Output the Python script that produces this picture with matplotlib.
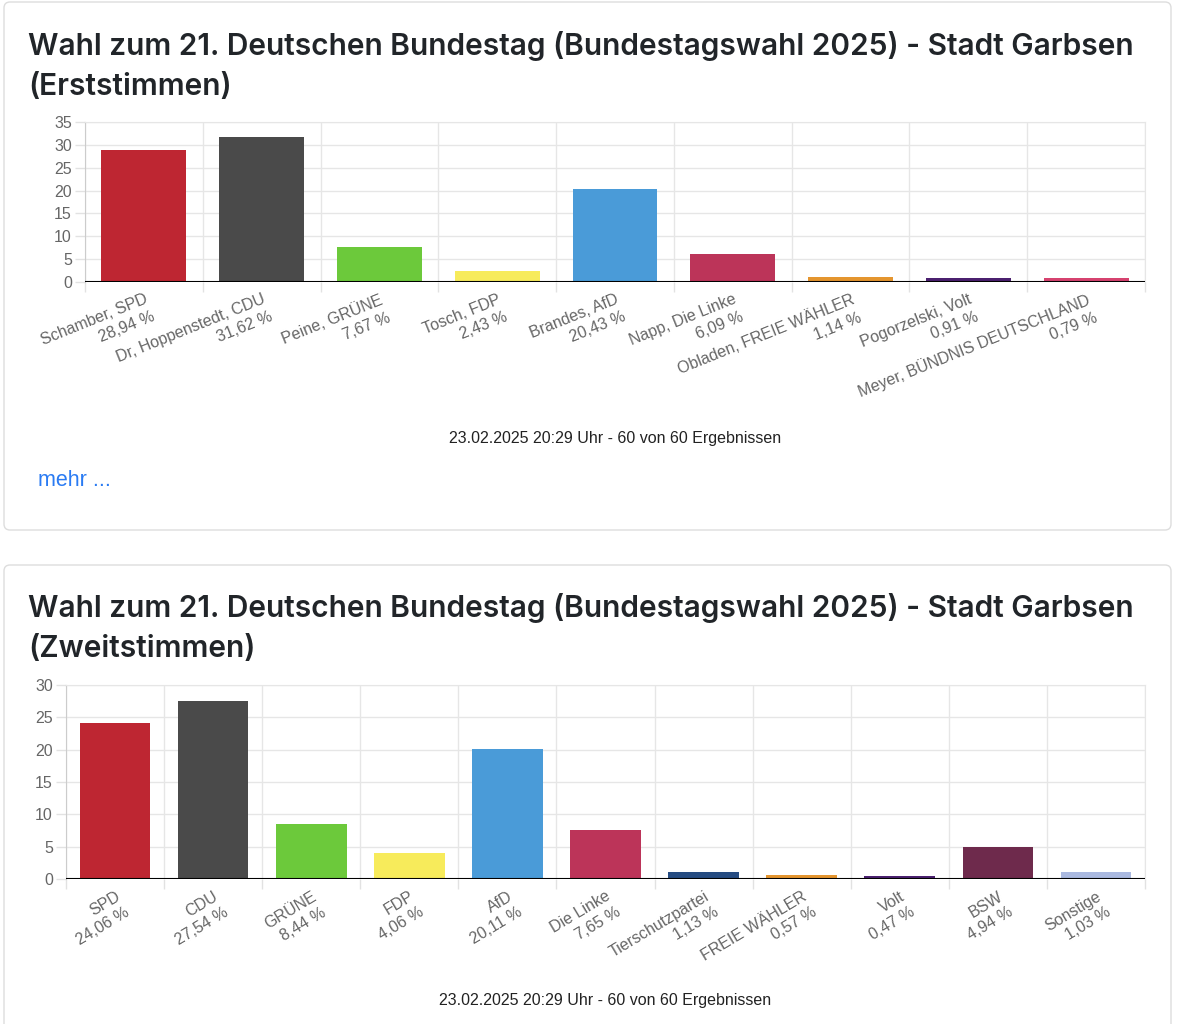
import matplotlib
matplotlib.use("Agg")
import matplotlib.pyplot as plt
from matplotlib.patches import FancyBboxPatch
from matplotlib.ticker import FixedLocator

plt.rcParams['font.family'] = ['Liberation Sans', 'DejaVu Sans']

W, H = 1188, 1024

# --- data ---
title = "Wahl zum 21. Deutschen Bundestag (Bundestagswahl 2025) - Stadt Garbsen"
footer = "23.02.2025 20:29 Uhr - 60 von 60 Ergebnissen"

erst_names = ["Schamber, SPD", "Dr. Hoppenstedt, CDU", "Peine, GRÜNE", "Tosch, FDP",
              "Brandes, AfD", "Napp, Die Linke", "Obladen, FREIE WÄHLER",
              "Pogorzelski, Volt", "Meyer, BÜNDNIS DEUTSCHLAND"]
erst_values = [28.94, 31.62, 7.67, 2.43, 20.43, 6.09, 1.14, 0.91, 0.79]
erst_colors = ["#be2632", "#4a4a4a", "#6cc93b", "#f7eb5b", "#4a9bd8",
               "#bc3459", "#e4952f", "#4b206f", "#d6426f"]
erst_yticks = [0, 5, 10, 15, 20, 25, 30, 35]

zweit_names = ["SPD", "CDU", "GRÜNE", "FDP", "AfD", "Die Linke", "Tierschutzpartei",
               "FREIE WÄHLER", "Volt", "BSW", "Sonstige"]
zweit_values = [24.06, 27.54, 8.44, 4.06, 20.11, 7.65, 1.13, 0.57, 0.47, 4.94, 1.03]
zweit_colors = ["#be2632", "#4a4a4a", "#6cc93b", "#f7eb5b", "#4a9bd8", "#bc3459",
                "#264c82", "#e4952f", "#4b206f", "#6e2a4c", "#aab9e0"]
zweit_yticks = [0, 5, 10, 15, 20, 25, 30]

fig = plt.figure(figsize=(W / 100, H / 100), dpi=100)

# background layer in pixel coords
bg = fig.add_axes([0, 0, 1, 1])
bg.set_xlim(0, W)
bg.set_ylim(H, 0)
bg.axis("off")

for top, bottom in [(2, 530), (565, 1060)]:
    card = FancyBboxPatch((4, top), 1167, bottom - top,
                          boxstyle="round,pad=0,rounding_size=6",
                          fc="white", ec="#dddddd", lw=1)
    bg.add_patch(card)


def px_axes(left, right, top, bottom):
    return fig.add_axes([left / W, 1 - bottom / H, (right - left) / W, (bottom - top) / H])


def bar_panel(ax, names, values, colors, yticks, rot):
    n = len(names)
    x = list(range(n))
    ax.bar(x, values, width=0.72, color=colors, zorder=2)
    labels = [f"{nm}\n{v:.2f} %".replace(".", ",") for nm, v in zip(names, values)]
    ax.set_xlim(-0.5, n - 0.5)
    ax.set_ylim(yticks[0], yticks[-1])
    ax.set_yticks(yticks)
    ax.set_xticks(x)
    ax.set_xticklabels(labels, rotation=rot, ha="right", va="top",
                       rotation_mode="anchor", multialignment="right", linespacing=1.3)
    ax.xaxis.set_minor_locator(FixedLocator([i - 0.5 for i in range(n + 1)]))
    ax.tick_params(axis="x", which="major", length=0, pad=7, labelsize=11.5, labelcolor="#666666")
    ax.tick_params(axis="x", which="minor", length=7.5, color="#e2e2e2", width=1)
    ax.tick_params(axis="y", length=7.5, color="#e2e2e2", width=1, pad=2,
                   labelsize=11.5, labelcolor="#666666")
    ax.grid(axis="y", which="major", color="#e6e6e6", lw=1, zorder=0)
    ax.grid(axis="x", which="minor", color="#e6e6e6", lw=1, zorder=0)
    for s in ["top", "right"]:
        ax.spines[s].set_color("#e6e6e6")
    ax.spines["left"].set_color("#cccccc")
    ax.spines["bottom"].set_visible(False)
    ax.axhline(0, color="black", lw=1.5, zorder=3)
    ax.set_axisbelow(True)


ax1 = px_axes(85, 1145, 122, 282)
bar_panel(ax1, erst_names, erst_values, erst_colors, erst_yticks, 22)

ax2 = px_axes(66, 1145, 685, 879)
bar_panel(ax2, zweit_names, zweit_values, zweit_colors, zweit_yticks, 31)

# titles and texts
tfont = dict(family=["Inter", "Roboto", "DejaVu Sans"], fontsize=21.5, fontweight="semibold", color="#212529")
bg.text(28, 46, title, va="center", ha="left", **tfont)
bg.text(28, 87, "(Erststimmen)", va="center", ha="left", **tfont)
bg.text(28, 608, title, va="center", ha="left", **tfont)
bg.text(28, 649, "(Zweitstimmen)", va="center", ha="left", **tfont)

bg.text((85 + 1145) / 2, 438, footer, ha="center", va="center", fontsize=11.5, color="#222222")
bg.text((66 + 1145) / 2, 1000, footer, ha="center", va="center", fontsize=11.5, color="#222222")

bg.text(38, 481, "mehr ...", ha="left", va="center", fontsize=15.5, color="#2a7bf3")

fig.savefig("out.png", dpi=100)
